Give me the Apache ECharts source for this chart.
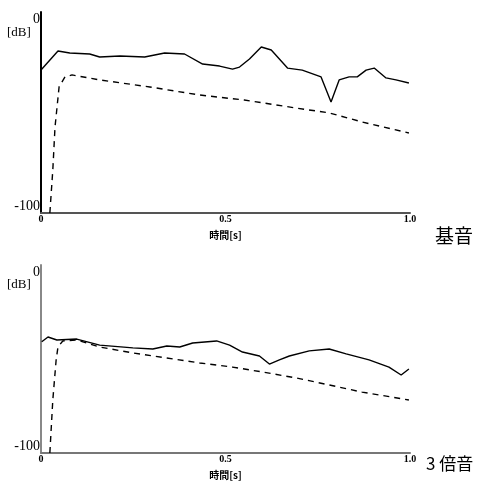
<!DOCTYPE html>
<html><head><meta charset="utf-8">
<script src="https://cdn.jsdelivr.net/npm/echarts@6/dist/echarts.min.js"></script>
<style>html,body{margin:0;padding:0;background:#fff}#c{width:486px;height:488px}</style>
</head><body><div id="c"></div>
<script>
// Time [s], level [dB]
const fundSolid = [[0.0,-28.9],[0.046,-19.4],[0.078,-20.4],[0.132,-20.9],[0.159,-22.4],[0.214,-21.9],[0.281,-22.4],[0.335,-20.4],[0.389,-20.9],[0.438,-25.9],[0.484,-26.9],[0.519,-28.4],[0.538,-27.4],[0.565,-23.4],[0.597,-17.4],[0.624,-18.9],[0.668,-27.9],[0.708,-28.9],[0.759,-32.3],[0.786,-44.8],[0.808,-33.8],[0.835,-32.3],[0.857,-32.3],[0.881,-28.9],[0.903,-27.9],[0.935,-32.8],[0.962,-33.8],[0.997,-35.3]];
const fundDashed = [[0.024,-100],[0.032,-78.6],[0.038,-57.2],[0.049,-37.3],[0.065,-32.3],[0.084,-31.3],[0.159,-33.8],[0.295,-37.3],[0.430,-41.3],[0.551,-43.8],[0.692,-47.8],[0.781,-50.2],[0.870,-54.7],[0.997,-60.2]];
const h3Solid = [[0.002,-40.8],[0.019,-38.3],[0.043,-39.9],[0.097,-39.4],[0.159,-42.6],[0.249,-44.1],[0.303,-44.7],[0.341,-43.1],[0.376,-43.6],[0.411,-41.5],[0.476,-40.4],[0.511,-42.6],[0.546,-46.3],[0.592,-48.4],[0.619,-52.7],[0.646,-50.5],[0.673,-48.4],[0.727,-45.7],[0.781,-44.7],[0.827,-47.3],[0.889,-50.5],[0.943,-54.3],[0.976,-58.5],[0.997,-55.3]];
const h3Dashed = [[0.024,-100],[0.032,-71.8],[0.041,-50.5],[0.046,-43.6],[0.059,-40.4],[0.097,-39.9],[0.159,-43.6],[0.249,-46.8],[0.341,-49.5],[0.430,-52.1],[0.519,-54.3],[0.600,-56.9],[0.692,-60.1],[0.781,-63.8],[0.870,-67.6],[0.997,-71.8]];
const xTicks = {0:'0',0.5:'0.5',1:'1.0'};
const yTicks = {0:'0','-100':'-100'};
const xName = '時間[s]';
const yUnit = '[dB]';
const panelNames = ['基音','3 倍音'];

const serif = '"Liberation Serif","DejaVu Serif",serif';
function xAxis(gi, color){
  return {type:'value', gridIndex:gi, min:0, max:1, interval:0.5,
    axisLine:{show:true, onZero:false, lineStyle:{color:color, width:2}}, axisTick:{show:false}, splitLine:{show:false},
    axisLabel:{fontFamily:serif, fontSize:10, fontWeight:'bold', color:'#000', margin:1, formatter:v=>xTicks[v]},
    name:xName, nameLocation:'middle', nameGap:17,
    nameTextStyle:{fontFamily:'"Noto Sans CJK JP"', fontSize:10, fontWeight:'bold', color:'#000'}};
}
function yAxis(gi, color){
  return {type:'value', gridIndex:gi, min:-100, max:0, interval:100,
    axisLine:{show:true, onZero:false, lineStyle:{color:color, width:2}}, axisTick:{show:false}, splitLine:{show:false},
    axisLabel:{fontFamily:serif, fontSize:14, color:'#000', margin:1, formatter:v=>yTicks[v],
      verticalAlignMaxLabel:'top', verticalAlignMinLabel:'bottom'}};
}
const solid = {color:'#000', width:1.4};
const dashed = {color:'#000', width:1.4, type:[6,5]};
const chart = echarts.init(document.getElementById('c'));
chart.setOption({
  animation:false,
  grid:[{left:41, top:12, width:369, height:201},{left:41, top:265, width:369, height:188}],
  xAxis:[xAxis(0,'#555'), xAxis(1,'#777')],
  yAxis:[yAxis(0,'#000'), yAxis(1,'#888')],
  series:[
    {type:'line', xAxisIndex:0, yAxisIndex:0, data:fundSolid, showSymbol:false, lineStyle:solid},
    {type:'line', xAxisIndex:0, yAxisIndex:0, data:fundDashed, showSymbol:false, lineStyle:dashed},
    {type:'line', xAxisIndex:1, yAxisIndex:1, data:h3Solid, showSymbol:false, lineStyle:solid},
    {type:'line', xAxisIndex:1, yAxisIndex:1, data:h3Dashed, showSymbol:false, lineStyle:dashed}
  ],
  graphic:[
    {type:'text', left:7, top:26, style:{text:yUnit, font:'13px '+serif, fill:'#000'}},
    {type:'text', left:7, top:278, style:{text:yUnit, font:'13px '+serif, fill:'#000'}},
    {type:'text', left:435, top:226, style:{text:panelNames[0], font:'19px "Noto Sans CJK JP"', fill:'#000'}},
    {type:'text', left:426, top:455, style:{text:panelNames[1], font:'17px "Noto Sans CJK JP"', fill:'#000'}}
  ]
});
</script></body></html>
